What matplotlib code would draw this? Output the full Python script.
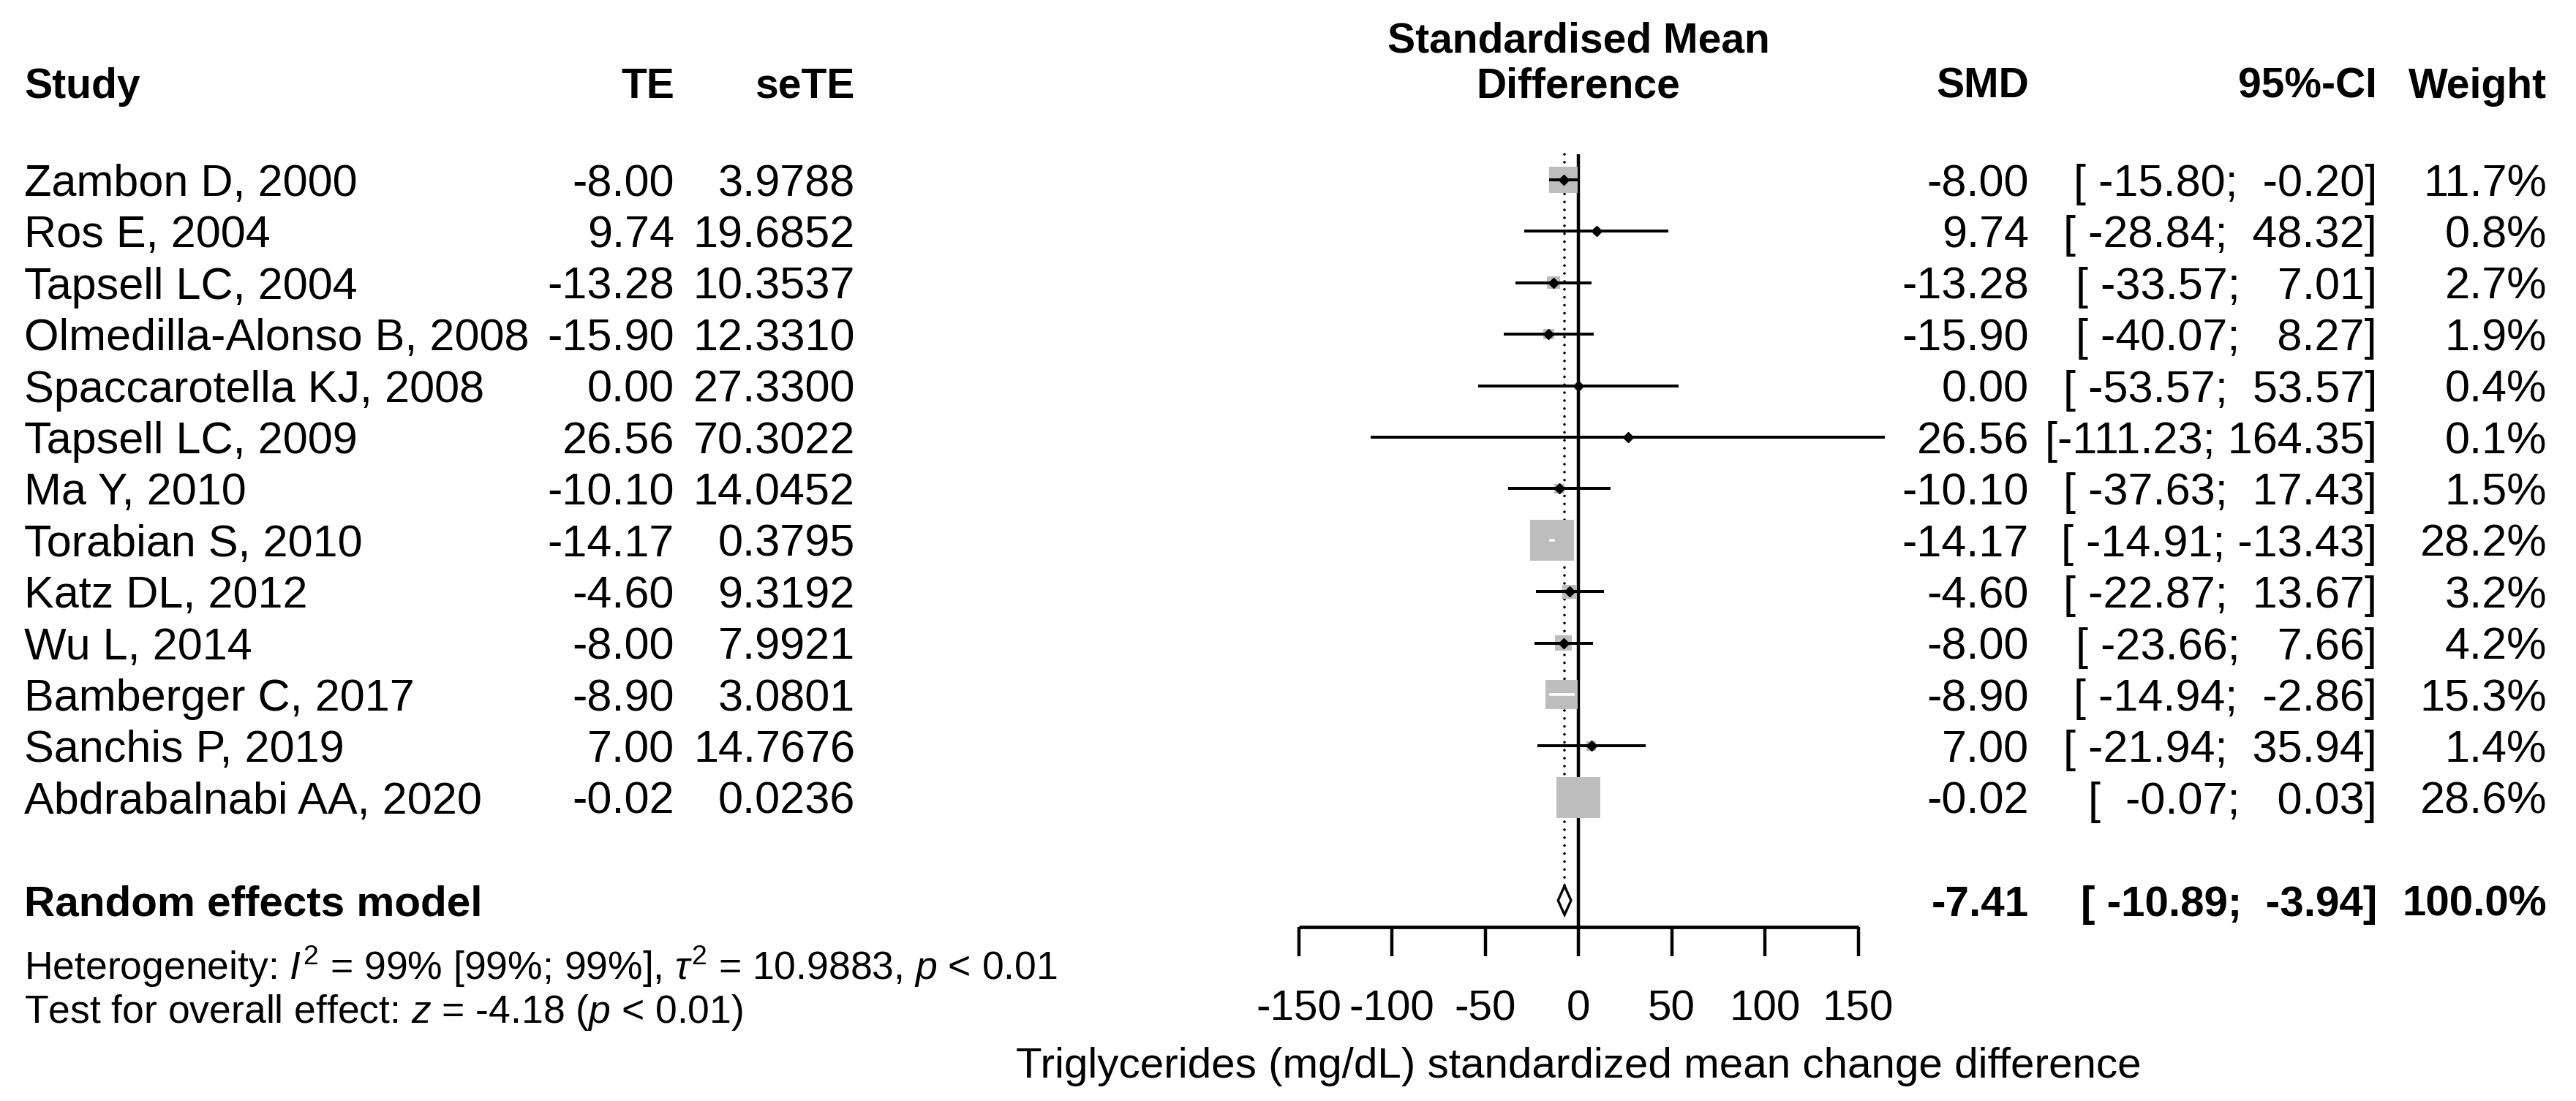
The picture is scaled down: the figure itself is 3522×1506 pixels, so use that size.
import numpy as np
import matplotlib
matplotlib.use('Agg')
import matplotlib.pyplot as plt
from matplotlib.patches import Rectangle, Polygon
import matplotlib.transforms as mtransforms

# data
studies = ['Zambon D, 2000', 'Ros E, 2004', 'Tapsell LC, 2004', 'Olmedilla-Alonso B, 2008',
           'Spaccarotella KJ, 2008', 'Tapsell LC, 2009', 'Ma Y, 2010', 'Torabian S, 2010',
           'Katz DL, 2012', 'Wu L, 2014', 'Bamberger C, 2017', 'Sanchis P, 2019',
           'Abdrabalnabi AA, 2020']
te = [-8.00, 9.74, -13.28, -15.90, 0.00, 26.56, -10.10, -14.17, -4.60, -8.00, -8.90, 7.00, -0.02]
sete = [3.9788, 19.6852, 10.3537, 12.3310, 27.3300, 70.3022, 14.0452, 0.3795, 9.3192,
        7.9921, 3.0801, 14.7676, 0.0236]
ci_lo = [-15.80, -28.84, -33.57, -40.07, -53.57, -111.23, -37.63, -14.91, -22.87, -23.66,
         -14.94, -21.94, -0.07]
ci_hi = [-0.20, 48.32, 7.01, 8.27, 53.57, 164.35, 17.43, -13.43, 13.67, 7.66, -2.86, 35.94, 0.03]
weight = [11.7, 0.8, 2.7, 1.9, 0.4, 0.1, 1.5, 28.2, 3.2, 4.2, 15.3, 1.4, 28.6]

pooled = -7.41
pooled_lo = -10.89
pooled_hi = -3.94

xticks = [-150, -100, -50, 0, 50, 100, 150]

het_text = 'Heterogeneity: $I^2$ = 99% [99%; 99%], $\\tau^2$ = 10.9883, $p$ < 0.01'
test_text = 'Test for overall effect: $z$ = -4.18 ($p$ < 0.01)'
xlabel = 'Triglycerides (mg/dL) standardized mean change difference'

plt.rcParams['font.family'] = ['Liberation Sans', 'DejaVu Sans']
plt.rcParams['mathtext.fontset'] = 'custom'
plt.rcParams['mathtext.rm'] = 'Liberation Sans'
plt.rcParams['mathtext.it'] = 'Liberation Sans:italic'
plt.rcParams['axes.unicode_minus'] = False

W, H = 3522, 1506
fig = plt.figure(figsize=(W / 100, H / 100), dpi=100)

# pixel layout
x0 = 2158      # px of zero
ppu = 2.55     # px per unit
row0 = 246     # px of first study row
drow = 70.4    # px per row

ax = fig.add_axes([(x0 - 150 * ppu) / W, 0, 300 * ppu / W, 1])
ax.set_xlim(-150, 150)
ax.set_ylim((H - row0) / drow, -row0 / drow)
for s in ['left', 'right', 'top']:
    ax.spines[s].set_visible(False)
ax.set_yticks([])
ax.patch.set_alpha(0)

n = len(studies)
rows = np.arange(n)
pooled_row = n + 1
axis_row = 14.51

# x axis
ax.spines['bottom'].set_position(('data', axis_row))
ax.spines['bottom'].set_bounds(-150, 150)
ax.spines['bottom'].set_linewidth(3.4)
ax.spines['bottom'].set_capstyle('butt')
ax.set_xticks(xticks)
ax.set_xticklabels([str(t) for t in xticks])
ax.tick_params(axis='x', direction='out', length=29, width=3.2, pad=33, labelsize=42)

# reference lines
ax.vlines(0, -0.5, axis_row, color='black', lw=3.2, zorder=1)
ax.vlines(pooled, -0.5, pooled_row - 0.28, color='black', lw=2.6,
          linestyles=(0, (0.01, 3.0)), capstyle='round', zorder=1)

wmax = max(weight)
for r, t, lo, hi, w in zip(rows, te, ci_lo, ci_hi, weight):
    s = np.sqrt(w / wmax)
    bw = 60 * s / ppu
    bh = 56 * s / drow
    ax.add_patch(Rectangle((t - bw / 2, r - bh / 2), bw, bh, facecolor='#bebebe',
                           edgecolor='none', zorder=2))
    inside = lo >= t - bw / 2 and hi <= t + bw / 2
    if inside:
        ax.plot([lo, hi], [r, r], color='white', lw=2.6, zorder=4, clip_on=False)
    else:
        ax.plot([lo, hi], [r, r], color='black', lw=2.9, zorder=3, clip_on=False,
                solid_capstyle='butt')
        ax.plot([t], [r], marker='D', ms=7, color='black', zorder=3)

ax.add_patch(Polygon([(pooled_lo, pooled_row), (pooled, pooled_row - 0.28),
                      (pooled_hi, pooled_row), (pooled, pooled_row + 0.28)],
                     closed=True, facecolor='white', edgecolor='black', lw=2.4, zorder=4))

tr = mtransforms.blended_transform_factory(fig.transFigure, ax.transData)
fs = 44
fsb = 41
head_row = -1.89

def col(px, r, s, ha='right', size=fs, weight='normal'):
    ax.text(px / W, r, s, transform=tr, ha=ha, va='center_baseline', fontsize=size,
            fontweight=weight, clip_on=False)

# headers
col(33, head_row, 'Study', ha='left', size=fsb, weight='bold')
col(922, head_row, 'TE', size=fsb, weight='bold')
col(1169, head_row, 'seTE', size=fsb, weight='bold')
col(x0, head_row - 0.89, 'Standardised Mean', ha='center', size=fsb, weight='bold')
col(x0, head_row, 'Difference', ha='center', size=fsb, weight='bold')
col(2774, head_row, 'SMD', size=fsb, weight='bold')
col(3250, head_row, '95%-CI', size=fsb, weight='bold')
col(3482, head_row, 'Weight', size=fsb, weight='bold')

lo_s = ['%.2f' % v for v in ci_lo + [pooled_lo]]
hi_s = ['%.2f' % v for v in ci_hi + [pooled_hi]]
wl = max(len(v) for v in lo_s)
wh = max(len(v) for v in hi_s)
ci_s = ['[' + a.rjust(wl) + '; ' + b.rjust(wh) + ']' for a, b in zip(lo_s, hi_s)]

for i in range(n):
    col(33, rows[i], studies[i], ha='left')
    col(922, rows[i], '%.2f' % te[i])
    col(1169, rows[i], '%.4f' % sete[i])
    col(2774, rows[i], '%.2f' % te[i])
    col(3250, rows[i], ci_s[i])
    col(3482, rows[i], '%.1f%%' % weight[i])

col(33, pooled_row, 'Random effects model', ha='left', size=42, weight='bold')
col(2774, pooled_row, '%.2f' % pooled, size=42, weight='bold')
col(3250, pooled_row, ci_s[-1], size=42, weight='bold')
col(3482, pooled_row, '100.0%', size=42, weight='bold')

col(33, 15.2, het_text, ha='left', size=38.5)
col(33, 16.08, test_text, ha='left', size=38.5)

ax.text(0, 17.14, xlabel, ha='center', va='center_baseline', fontsize=42, clip_on=False)

fig.savefig('out.png', dpi=100, facecolor='white')
